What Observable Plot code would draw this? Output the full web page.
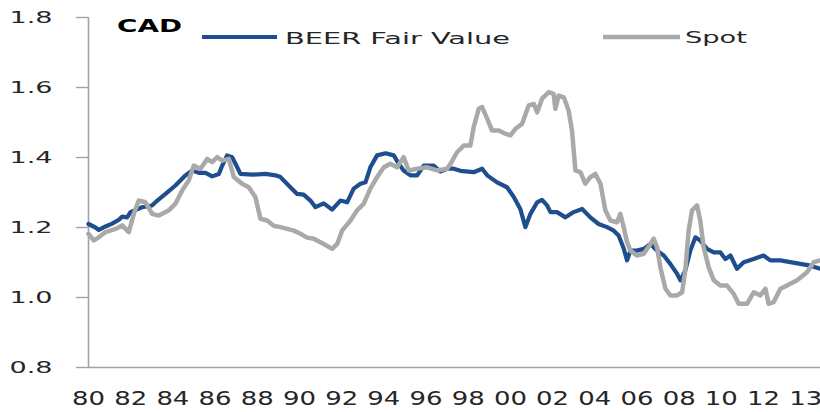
<!DOCTYPE html>
<html>
<head>
<meta charset="utf-8">
<script src="https://cdn.jsdelivr.net/npm/d3@7"></script>
<script src="https://cdn.jsdelivr.net/npm/@observablehq/plot@0.6"></script>
<style>
  html, body { margin: 0; padding: 0; background: #fff; }
  #chart svg { display: block; font-family: "DejaVu Sans", sans-serif; }
</style>
</head>
<body>
<div id="chart"></div>
<script>
// ---- Data ----
const beerYears = [1980.00,1980.33,1980.49,1980.81,1981.12,1981.44,1981.60,1981.83,1981.99,1982.54,1983.01,1983.26,1983.65,1984.12,1984.60,1984.91,1985.23,1985.55,1985.86,1986.18,1986.34,1986.57,1986.81,1987.05,1987.20,1987.76,1988.39,1988.86,1989.10,1989.57,1989.89,1990.20,1990.52,1990.76,1991.15,1991.55,1991.94,1992.26,1992.57,1992.89,1993.13,1993.36,1993.68,1994.08,1994.47,1994.71,1994.94,1995.26,1995.58,1995.89,1996.36,1996.68,1997.00,1997.31,1997.63,1998.26,1998.66,1998.90,1999.37,1999.84,2000.16,2000.47,2000.71,2000.95,2001.27,2001.50,2001.74,2001.90,2002.21,2002.61,2003.00,2003.40,2003.79,2004.18,2004.58,2004.90,2005.13,2005.37,2005.53,2005.69,2006.00,2006.32,2006.64,2006.95,2007.27,2007.58,2007.90,2008.06,2008.29,2008.53,2008.77,2009.00,2009.32,2009.64,2009.95,2010.19,2010.43,2010.74,2011.06,2011.53,2012.00,2012.32,2012.80,2013.27,2013.74,2014.22,2014.69];
const beerValues = [1.210,1.200,1.193,1.203,1.211,1.222,1.231,1.229,1.244,1.258,1.263,1.277,1.296,1.320,1.349,1.363,1.356,1.356,1.346,1.353,1.377,1.406,1.401,1.372,1.353,1.351,1.353,1.349,1.344,1.315,1.296,1.294,1.277,1.258,1.269,1.251,1.277,1.272,1.311,1.325,1.329,1.372,1.406,1.412,1.406,1.382,1.363,1.349,1.349,1.377,1.377,1.360,1.368,1.368,1.362,1.358,1.368,1.349,1.329,1.315,1.287,1.253,1.201,1.239,1.272,1.279,1.263,1.244,1.244,1.229,1.244,1.253,1.229,1.210,1.201,1.191,1.177,1.140,1.106,1.134,1.134,1.139,1.153,1.134,1.120,1.096,1.068,1.049,1.077,1.134,1.172,1.163,1.139,1.129,1.129,1.110,1.120,1.082,1.101,1.110,1.120,1.106,1.106,1.101,1.096,1.091,1.082];

const spotYears = [1980.00,1980.25,1980.49,1980.81,1981.28,1981.60,1981.91,1982.15,1982.38,1982.70,1983.02,1983.33,1983.81,1984.12,1984.44,1984.75,1984.99,1985.31,1985.63,1985.86,1986.10,1986.34,1986.65,1986.89,1987.28,1987.60,1987.91,1988.15,1988.47,1988.78,1989.10,1989.42,1989.73,1990.05,1990.36,1990.68,1991.15,1991.55,1991.79,1992.02,1992.42,1992.73,1993.05,1993.36,1993.68,1994.00,1994.31,1994.63,1994.94,1995.18,1995.58,1996.05,1996.53,1997.00,1997.16,1997.47,1997.79,1998.10,1998.26,1998.50,1998.66,1998.90,1999.13,1999.45,1999.76,2000.00,2000.24,2000.55,2000.87,2001.11,2001.27,2001.50,2001.82,2002.05,2002.13,2002.29,2002.53,2002.76,2002.92,2003.08,2003.32,2003.55,2003.79,2004.03,2004.27,2004.50,2004.74,2005.06,2005.21,2005.37,2005.53,2005.69,2006.00,2006.32,2006.64,2006.79,2006.95,2007.11,2007.35,2007.58,2007.90,2008.14,2008.29,2008.45,2008.61,2008.85,2009.00,2009.16,2009.40,2009.64,2009.95,2010.27,2010.58,2010.82,2011.22,2011.53,2011.85,2012.09,2012.24,2012.48,2012.80,2013.11,2013.59,2014.06,2014.38,2014.69];
const spotValues = [1.182,1.163,1.172,1.187,1.196,1.206,1.187,1.239,1.277,1.272,1.239,1.234,1.249,1.268,1.306,1.334,1.377,1.368,1.396,1.387,1.401,1.391,1.396,1.344,1.325,1.315,1.287,1.225,1.220,1.205,1.201,1.196,1.191,1.182,1.171,1.168,1.153,1.139,1.153,1.191,1.220,1.249,1.268,1.311,1.344,1.372,1.382,1.372,1.401,1.363,1.368,1.372,1.363,1.368,1.382,1.415,1.434,1.434,1.487,1.539,1.544,1.511,1.477,1.477,1.468,1.463,1.482,1.496,1.549,1.553,1.529,1.568,1.587,1.582,1.539,1.577,1.572,1.534,1.477,1.363,1.358,1.325,1.344,1.353,1.325,1.249,1.220,1.215,1.239,1.201,1.158,1.134,1.120,1.125,1.153,1.168,1.144,1.086,1.025,1.006,1.006,1.015,1.077,1.191,1.249,1.263,1.220,1.144,1.086,1.049,1.034,1.034,1.011,0.982,0.982,1.015,1.006,1.025,0.982,0.987,1.025,1.034,1.049,1.072,1.101,1.106];

const yTicks = [0.8, 1.0, 1.2, 1.4, 1.6, 1.8];
const xTickYears = [1980,1982,1984,1986,1988,1990,1992,1994,1996,1998,2000,2002,2004,2006,2008,2010,2012,2014];
const xTickLabels = ["80","82","84","86","88","90","92","94","96","98","00","02","04","06","08","10","12","13"];
const seriesNames = ["BEER Fair Value", "Spot"];
const chartTitle = "CAD";

const xDomain = [1980, 2014.7];
const yDomain = [0.8, 1.8];

const beer = beerYears.map((t, i) => ({t, v: beerValues[i]}));
const spot = spotYears.map((t, i) => ({t, v: spotValues[i]}));

const BLUE = "#1f4e8f";
const GRAY = "#a9a9a9";
const AXIS = "#a3a3a3";
const INK = "#262626";

const chart = Plot.plot({
  width: 820,
  height: 412,
  marginLeft: 88,
  marginRight: 0,
  marginTop: 17,
  marginBottom: 45,
  x: {domain: xDomain},
  y: {domain: yDomain},
  marks: [
    Plot.ruleX([xDomain[0]], {stroke: AXIS, strokeWidth: 1.6}),
    Plot.ruleY([yDomain[0]], {stroke: AXIS, strokeWidth: 1.6}),
    Plot.axisY({ticks: yTicks, tickFormat: d => d.toFixed(1), tickSize: 12, tickPadding: 24, stroke: AXIS, strokeWidth: 1.4, fill: INK, fontSize: 16, label: null}),
    Plot.axisX({ticks: xTickYears, tickFormat: d => xTickLabels[xTickYears.indexOf(d)], tickSize: 0, tickPadding: 24, fill: INK, fontSize: 19, label: null}),
    Plot.line(beer, {x: "t", y: "v", stroke: BLUE, strokeWidth: 4.2, strokeLinejoin: "round", strokeLinecap: "round"}),
    Plot.line(spot, {x: "t", y: "v", stroke: GRAY, strokeWidth: 4.5, strokeLinejoin: "round", strokeLinecap: "round"})
  ]
});

document.getElementById("chart").appendChild(chart);

const svg = d3.select(chart);

// Stretch tick labels horizontally, like the reference's wide lettering
svg.selectAll('g[aria-label="y-axis tick label"] text')
  .attr("textLength", 43).attr("lengthAdjust", "spacingAndGlyphs");
svg.selectAll('g[aria-label="x-axis tick label"] text')
  .attr("textLength", 33).attr("lengthAdjust", "spacingAndGlyphs");

// In-plot legend and title
const leg = svg.append("g")
  .attr("font-family", '"DejaVu Sans", sans-serif')
  .attr("text-anchor", "start");
leg.append("text").text(chartTitle)
  .attr("x", 117).attr("y", 32).attr("font-size", 18).attr("font-weight", "bold")
  .attr("fill", "#000").attr("textLength", 65).attr("lengthAdjust", "spacingAndGlyphs");
leg.append("line").attr("x1", 202).attr("x2", 277).attr("y1", 37).attr("y2", 37)
  .attr("stroke", BLUE).attr("stroke-width", 4.2);
leg.append("text").text(seriesNames[0])
  .attr("x", 285).attr("y", 44).attr("font-size", 16.5).attr("fill", INK)
  .attr("textLength", 225).attr("lengthAdjust", "spacingAndGlyphs");
leg.append("line").attr("x1", 603).attr("x2", 680).attr("y1", 37).attr("y2", 37)
  .attr("stroke", GRAY).attr("stroke-width", 4.5);
leg.append("text").text(seriesNames[1])
  .attr("x", 685).attr("y", 43).attr("font-size", 16.5).attr("fill", INK)
  .attr("textLength", 62).attr("lengthAdjust", "spacingAndGlyphs");
</script>
</body>
</html>
